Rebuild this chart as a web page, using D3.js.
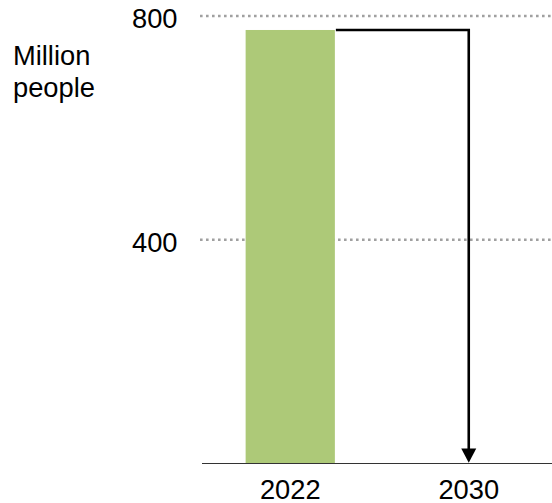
<!DOCTYPE html>
<html>
<head>
<meta charset="utf-8">
<script src="https://cdn.jsdelivr.net/npm/d3@7"></script>
<style>
  html, body { margin: 0; padding: 0; background: #fff; }
  svg { display: block; font-family: "Liberation Sans", Arial, sans-serif; }
</style>
</head>
<body>
<svg id="chart" width="552" height="503"></svg>
<script>
// Data
const years = ["2022", "2030"];
const people = [775, null];        // million people, measured
const target2030 = 0;              // goal for 2030
const yTicks = [400, 800];
const unitLabel = ["Million", "people"];

const W = 552, H = 503;
const FS = 27.3;
const svg = d3.select("#chart");

const x = d3.scaleBand()
  .domain(years)
  .range([201, 558])
  .paddingInner(0.5)
  .paddingOuter(0.25);

const y = d3.scaleLinear()
  .domain([0, 800])
  .range([463.5, 16]);

// Dotted gridlines
svg.append("g").selectAll("line")
  .data(yTicks)
  .join("line")
  .attr("x1", 200).attr("x2", W)
  .attr("y1", d => y(d)).attr("y2", d => y(d))
  .attr("stroke", "#a0a0a0")
  .attr("stroke-width", 2.6)
  .attr("stroke-dasharray", "2.6,3.4");

// Y tick labels
svg.append("g").selectAll("text")
  .data(yTicks)
  .join("text")
  .attr("x", 177.5)
  .attr("y", d => y(d))
  .attr("dy", "0.44em")
  .attr("text-anchor", "end")
  .attr("font-size", FS)
  .attr("fill", "#000")
  .text(d => d);

// Unit label
svg.append("text")
  .attr("x", 13)
  .attr("y", 65)
  .attr("font-size", FS)
  .attr("fill", "#000")
  .selectAll("tspan")
  .data(unitLabel)
  .join("tspan")
  .attr("x", 13)
  .attr("dy", (d, i) => i === 0 ? 0 : 32)
  .text(d => d);

// Bars
svg.append("g").selectAll("rect")
  .data(years.map((yr, i) => ({ yr, v: people[i] })).filter(d => d.v != null))
  .join("rect")
  .attr("x", d => x(d.yr))
  .attr("y", d => y(d.v))
  .attr("width", x.bandwidth())
  .attr("height", d => y(0) - y(d.v))
  .attr("fill", "#adc978");

// Baseline
svg.append("line")
  .attr("x1", 202).attr("x2", W)
  .attr("y1", y(0)).attr("y2", y(0))
  .attr("stroke", "#333")
  .attr("stroke-width", 1.2);

// X labels
svg.append("g").selectAll("text")
  .data(years)
  .join("text")
  .attr("x", d => x(d) + x.bandwidth() / 2)
  .attr("y", 499)
  .attr("text-anchor", "middle")
  .attr("font-size", FS)
  .attr("fill", "#000")
  .text(d => d);

// Arrow from the 2022 level down to the 2030 target
const x0 = x("2022") + x.bandwidth();
const x1 = x("2030") + x.bandwidth() / 2;
const yStart = y(people[0]);
const yEnd = y(target2030);
const headH = 15, headW = 15;

svg.append("path")
  .attr("d", `M${x0 + 1},${yStart} H${x1} V${yEnd - headH + 1}`)
  .attr("fill", "none")
  .attr("stroke", "#000")
  .attr("stroke-width", 2.6)
  .attr("stroke-linejoin", "miter");

svg.append("path")
  .attr("d", `M${x1 - headW / 2},${yEnd - headH} L${x1 + headW / 2},${yEnd - headH} L${x1},${yEnd - 0.8} Z`)
  .attr("fill", "#000");
</script>
</body>
</html>
